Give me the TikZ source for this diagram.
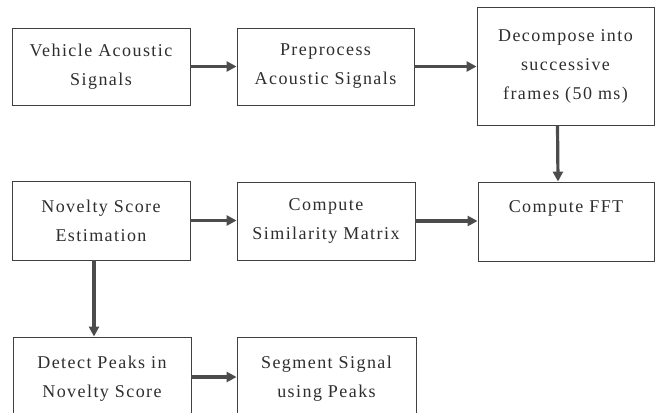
\documentclass[tikz,border=0pt]{standalone}
\usepackage{fontspec}
\setmainfont{Liberation Serif}[LetterSpace=8]
\usetikzlibrary{arrows.meta}
\begin{document}
\begin{tikzpicture}[x=1pt,y=-1pt,
  box/.style={draw=black!75,line width=0.9pt,align=center,text=black!82,
    font=\fontsize{18}{29}\selectfont,inner sep=0pt},
  arr/.style={draw=black!70,line width=3.2pt,-{Triangle[length=10pt,width=10pt]}}]
\useasboundingbox[fill=white] (0,0) rectangle (660,412);
\node[box,minimum width=178pt,minimum height=77pt] (b1) at (101,66.5) {Vehicle Acoustic\\Signals};
\node[box,minimum width=177pt,minimum height=77pt] (b2) at (325.5,66.5) {Preprocess\\Acoustic Signals};
\node[box,minimum width=177pt,minimum height=118pt] (b3) at (565.5,66) {Decompose into\\successive\\frames (50 ms)};
\node[box,minimum width=178pt,minimum height=79pt] (b4) at (101,220.5) {Novelty Score\\Estimation};
\node[box,minimum width=178pt,minimum height=78pt] (b5) at (326,221) {Compute\\Similarity Matrix};
\node[box,minimum width=176pt,minimum height=79pt] (b6) at (566,221.5) {Compute FFT\\\mbox{}};
\node[box,minimum width=178pt,minimum height=84pt] (b7) at (102,379) {Detect Peaks in\\Novelty Score};
\node[box,minimum width=179pt,minimum height=84pt] (b8) at (326.5,379) {Segment Signal\\using Peaks};
\draw[arr] (b1.east) -- (b2.west);
\draw[arr] (b2.east) -- (b3.west |- b2.east);
\draw[arr] ([xshift=-8pt]b3.south) -- ([xshift=-8pt]b6.north);
\draw[arr] (b5.east) -- (b6.west |- b5.east);
\draw[arr] (b4.east) -- (b5.west |- b4.east);
\draw[arr] ([xshift=-7pt]b4.south) -- ([xshift=-8pt]b7.north);
\draw[arr] (b7.east |- 0,377) -- (b8.west |- 0,377);
\end{tikzpicture}
\end{document}
